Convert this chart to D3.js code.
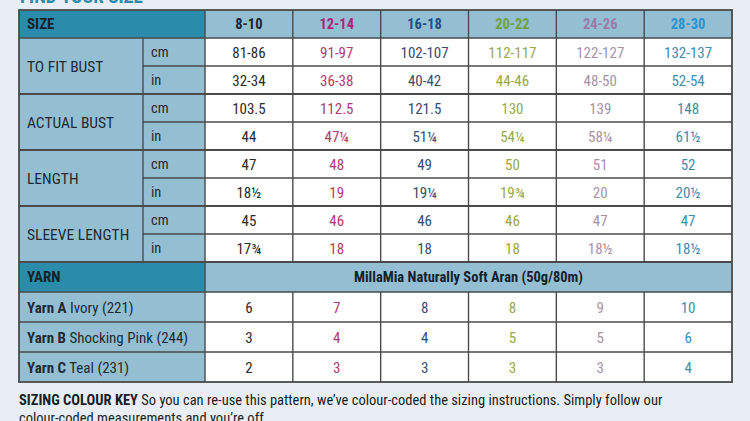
<!DOCTYPE html>
<html>
<head>
<meta charset="utf-8">
<script src="https://cdn.jsdelivr.net/npm/d3@7"></script>
<style>
  body { margin: 0; background: #e8eef3; }
  svg { display: block; }
  text { font-family: "Liberation Sans Narrow", "Roboto Condensed", Roboto, sans-serif; }
</style>
</head>
<body>
<svg id="chart" width="750" height="421"></svg>
<script>
// sizes across the top, with the colour each one is coded in
var sizes = ["8-10", "12-14", "16-18", "20-22", "24-26", "28-30"];
var headColours = ["#1c2630", "#b0227a", "#1f4f8a", "#6fa23a", "#9c7aa8", "#2b93cf"];
var cellColours = ["#2b2b2b", "#b23a6e", "#34506e", "#98a848", "#a890a8", "#3e8ea8"];

// measurement groups (two rows each: cm / in)
var measures = ["TO FIT BUST", "ACTUAL BUST", "LENGTH", "SLEEVE LENGTH"];
var units = ["cm", "in"];
var toFitBustCm = ["81-86", "91-97", "102-107", "112-117", "122-127", "132-137"];
var toFitBustIn = ["32-34", "36-38", "40-42", "44-46", "48-50", "52-54"];
var actualBustCm = ["103.5", "112.5", "121.5", "130", "139", "148"];
var actualBustIn = ["44", "47¼", "51¼", "54¼", "58¼", "61½"];
var lengthCm = ["47", "48", "49", "50", "51", "52"];
var lengthIn = ["18½", "19", "19¼", "19¾", "20", "20½"];
var sleeveCm = ["45", "46", "46", "46", "47", "47"];
var sleeveIn = ["17¾", "18", "18", "18", "18½", "18½"];

// yarn amounts (balls)
var yarnName = "MillaMia Naturally Soft Aran (50g/80m)";
var yarns = [["Yarn A", " Ivory (221)"], ["Yarn B", " Shocking Pink (244)"], ["Yarn C", " Teal (231)"]];
var yarnA = [6, 7, 8, 8, 9, 10];
var yarnB = [3, 4, 4, 5, 5, 6];
var yarnC = [2, 3, 3, 3, 3, 4];

var measureRows = [toFitBustCm, toFitBustIn, actualBustCm, actualBustIn, lengthCm, lengthIn, sleeveCm, sleeveIn];
var yarnRows = [yarnA, yarnB, yarnC];

var svg = d3.select("#chart");
var darkTeal = "#2b8bab", lightBlue = "#94bfd3", lineCol = "#4a4a4a";

var left = 19, unitX = 143, dataX = 205, right = 732;
var x = d3.scaleBand().domain(d3.range(sizes.length)).range([dataX, right]);
var yHead = [10, 38];
var y = d3.scaleBand().domain(d3.range(measureRows.length)).range([38, 262]);
var yYarnHead = [262, 292];
var yy = d3.scaleBand().domain(d3.range(yarnRows.length)).range([292, 382]);

// title, cut off at the top of the picture
svg.append("text").attr("x", left + 1).attr("y", 3)
  .attr("font-size", 19).attr("font-weight", "bold").attr("fill", darkTeal)
  .text("FIND YOUR SIZE");

// header row
svg.append("rect").attr("x", left).attr("y", yHead[0]).attr("width", dataX - left).attr("height", yHead[1] - yHead[0]).attr("fill", darkTeal);
svg.append("rect").attr("x", dataX).attr("y", yHead[0]).attr("width", right - dataX).attr("height", yHead[1] - yHead[0]).attr("fill", lightBlue);
svg.append("text").attr("x", left + 8).attr("y", 29).attr("font-size", 15).attr("font-weight", "bold").attr("fill", "#14222c").text("SIZE");
svg.selectAll("text.size").data(sizes).enter().append("text")
  .attr("class", "size")
  .attr("x", (d, i) => x(i) + x.bandwidth() / 2).attr("y", 29)
  .attr("text-anchor", "middle").attr("font-size", 14.5).attr("font-weight", "bold")
  .attr("fill", (d, i) => headColours[i]).text(d => d);

// label columns for the measurement rows
svg.append("rect").attr("x", left).attr("y", 38).attr("width", dataX - left).attr("height", 224).attr("fill", lightBlue);
svg.append("rect").attr("x", dataX).attr("y", 38).attr("width", right - dataX).attr("height", 224).attr("fill", "#ffffff");

svg.selectAll("text.measure").data(measures).enter().append("text")
  .attr("class", "measure")
  .attr("x", left + 8).attr("y", (d, i) => y(i * 2) + y.bandwidth() + 6)
  .attr("font-size", 15.5).attr("fill", "#1d2b36").text(d => d);

svg.selectAll("text.unit").data(d3.range(measureRows.length)).enter().append("text")
  .attr("class", "unit")
  .attr("x", unitX + 8).attr("y", i => y(i) + y.bandwidth() / 2 + 5)
  .attr("font-size", 14.5).attr("fill", "#1d2b36").text(i => units[i % 2]);

// measurement values
measureRows.forEach(function (row, r) {
  svg.selectAll("text.m" + r).data(row).enter().append("text")
    .attr("class", "m" + r)
    .attr("x", (d, i) => x(i) + x.bandwidth() / 2).attr("y", y(r) + y.bandwidth() / 2 + 5.5)
    .attr("text-anchor", "middle").attr("font-size", 15)
    .attr("fill", (d, i) => cellColours[i]).text(d => d);
});

// yarn header row
svg.append("rect").attr("x", left).attr("y", yYarnHead[0]).attr("width", dataX - left).attr("height", yYarnHead[1] - yYarnHead[0]).attr("fill", darkTeal);
svg.append("rect").attr("x", dataX).attr("y", yYarnHead[0]).attr("width", right - dataX).attr("height", yYarnHead[1] - yYarnHead[0]).attr("fill", lightBlue);
svg.append("text").attr("x", left + 8).attr("y", 282).attr("font-size", 15).attr("font-weight", "bold").attr("fill", "#14222c").text("YARN");
svg.append("text").attr("x", (dataX + right) / 2).attr("y", 282).attr("text-anchor", "middle")
  .attr("font-size", 14.5).attr("font-weight", "bold").attr("fill", "#14222c").text(yarnName);

// yarn rows
svg.append("rect").attr("x", left).attr("y", 292).attr("width", dataX - left).attr("height", 90).attr("fill", lightBlue);
svg.append("rect").attr("x", dataX).attr("y", 292).attr("width", right - dataX).attr("height", 90).attr("fill", "#ffffff");
var yarnLabels = svg.selectAll("text.yarn").data(yarns).enter().append("text")
  .attr("class", "yarn")
  .attr("x", left + 8).attr("y", (d, i) => yy(i) + yy.bandwidth() / 2 + 5.5)
  .attr("font-size", 15).attr("fill", "#1d2b36");
yarnLabels.append("tspan").attr("font-weight", "bold").text(d => d[0]);
yarnLabels.append("tspan").text(d => d[1]);

yarnRows.forEach(function (row, r) {
  svg.selectAll("text.y" + r).data(row).enter().append("text")
    .attr("class", "y" + r)
    .attr("x", (d, i) => x(i) + x.bandwidth() / 2).attr("y", yy(r) + yy.bandwidth() / 2 + 5.5)
    .attr("text-anchor", "middle").attr("font-size", 15)
    .attr("fill", (d, i) => cellColours[i]).text(d => d);
});

// grid lines
var lines = svg.append("g").attr("stroke", lineCol).attr("fill", "none");
// horizontal lines in the measurement block
d3.range(1, measureRows.length).forEach(function (r) {
  var x0 = r % 2 === 0 ? left : unitX;
  lines.append("line").attr("x1", x0).attr("x2", right).attr("y1", y(r)).attr("y2", y(r))
    .attr("stroke-width", r % 2 === 0 ? 1.8 : 1.4);
});
lines.append("line").attr("x1", left).attr("x2", right).attr("y1", 38).attr("y2", 38).attr("stroke-width", 1.6);
lines.append("line").attr("x1", left).attr("x2", right).attr("y1", 262).attr("y2", 262).attr("stroke-width", 1.8);
lines.append("line").attr("x1", left).attr("x2", right).attr("y1", 292).attr("y2", 292).attr("stroke-width", 1.6);
d3.range(1, yarnRows.length).forEach(function (r) {
  lines.append("line").attr("x1", left).attr("x2", right).attr("y1", yy(r)).attr("y2", yy(r)).attr("stroke-width", 1.4);
});
// vertical lines
lines.append("line").attr("x1", unitX).attr("x2", unitX).attr("y1", 38).attr("y2", 262).attr("stroke-width", 1.4);
d3.range(sizes.length).forEach(function (i) {
  var xv = x(i);
  lines.append("line").attr("x1", xv).attr("x2", xv).attr("y1", 10).attr("y2", 262).attr("stroke-width", 1.4);
  lines.append("line").attr("x1", xv).attr("x2", xv).attr("y1", 292).attr("y2", 382).attr("stroke-width", 1.4);
});
lines.append("line").attr("x1", dataX).attr("x2", dataX).attr("y1", 262).attr("y2", 292).attr("stroke-width", 1.4);
// outer border
lines.append("rect").attr("x", left).attr("y", 10).attr("width", right - left).attr("height", 372).attr("stroke-width", 1.8);

// colour key note under the table
var note = svg.append("text").attr("x", left).attr("y", 405).attr("font-size", 14.5).attr("fill", "#1a1f24");
note.append("tspan").attr("font-weight", "bold").text("SIZING COLOUR KEY");
note.append("tspan").text(" So you can re-use this pattern, we\u2019ve colour-coded the sizing instructions. Simply follow our");
svg.append("text").attr("x", left).attr("y", 423).attr("font-size", 14.5).attr("fill", "#1a1f24")
  .text("colour-coded measurements and you\u2019re off.");
</script>
</body>
</html>
